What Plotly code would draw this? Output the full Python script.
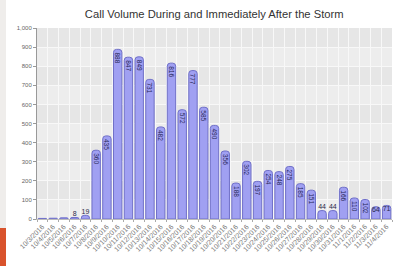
import plotly.graph_objects as go

dates = ["10/3/2016", "10/4/2016", "10/5/2016", "10/6/2016", "10/7/2016", "10/8/2016",
         "10/9/2016", "10/10/2016", "10/11/2016", "10/12/2016", "10/13/2016", "10/14/2016",
         "10/15/2016", "10/16/2016", "10/17/2016", "10/18/2016", "10/19/2016", "10/20/2016",
         "10/21/2016", "10/22/2016", "10/23/2016", "10/24/2016", "10/25/2016", "10/26/2016",
         "10/27/2016", "10/28/2016", "10/29/2016", "10/30/2016", "10/31/2016", "11/1/2016",
         "11/2/2016", "11/3/2016", "11/4/2016"]
calls = [3, 4, 6, 8, 19, 360, 435, 888, 847, 849, 731, 482, 816, 572, 777, 585, 490, 356,
         188, 302, 197, 254, 248, 275, 185, 151, 44, 44, 166, 110, 102, 64, 71]
y_ticks = [0, 100, 200, 300, 400, 500, 600, 700, 800, 900, 1000]
y_tick_text = ["0", "100", "200", "300", "400", "500", "600", "700", "800", "900", "1,000"]

big_text = [str(v) if v >= 100 else "" for v in calls]
small_idx = [i for i, v in enumerate(calls) if 8 <= v < 100]
small_x = [dates[i] for i in small_idx]
small_y = [calls[i] for i in small_idx]
small_t = [str(calls[i]) for i in small_idx]
small_pos = ["top center" if calls[i] < 50 else "bottom center" for i in small_idx]

fig = go.Figure()
fig.add_trace(go.Bar(
    x=dates, y=calls, text=big_text, textposition="inside", textangle=90,
    insidetextanchor="end", constraintext="none",
    textfont=dict(size=6.5, color="#262656", family="Liberation Sans"),
    marker=dict(color="#a0a0f2", line=dict(color="#7070c8", width=1), cornerradius=3),
    hoverinfo="skip",
))
fig.add_trace(go.Scatter(
    x=small_x, y=small_y, text=small_t, mode="text", textposition=small_pos,
    textfont=dict(size=7, color="#2a2a4a", family="Liberation Sans"), hoverinfo="skip",
))

shapes = []
for k in range(0, 1000, 200):
    shapes.append(dict(type="rect", xref="paper", yref="y", x0=0, x1=1, y0=k + 100, y1=k + 200,
                       fillcolor="#e6e6e6", line=dict(width=0), layer="below"))
# slide decorations
shapes.append(dict(type="rect", xref="paper", yref="paper", x0=-37 / 355, x1=-31 / 355,
                   y0=-47 / 191, y1=-9 / 191, fillcolor="#d9532c", line=dict(width=0)))
shapes.append(dict(type="rect", xref="paper", yref="paper", x0=-37 / 355, x1=-31 / 355,
                   y0=-9 / 191, y1=1 + 28 / 191, fillcolor="#efedeb", line=dict(width=0)))

fig.update_layout(
    width=393, height=266,
    margin=dict(l=37, r=1, t=28, b=47),
    paper_bgcolor="#ffffff", plot_bgcolor="#ededed",
    showlegend=False, bargap=0.22,
    uniformtext=dict(minsize=6.5, mode="show"),
    title=dict(text="Call Volume During and Immediately After the Storm", x=0.545,
               xanchor="center", yref="container", y=0.947, yanchor="middle",
               font=dict(size=11.2, color="#333333", family="Liberation Sans")),
    font=dict(family="Liberation Sans", color="#555555"),
    shapes=shapes,
)
fig.update_xaxes(type="category", range=[-0.5, len(dates) - 0.5], tickangle=-45,
                 tickfont=dict(size=7, color="#777777"),
                 showgrid=True, gridcolor="#f8f8f8", gridwidth=1, tickson="boundaries",
                 ticks="outside", ticklen=2, tickcolor="#aaaaaa", showline=True,
                 linecolor="#bbbbbb", automargin=False)
fig.update_yaxes(range=[0, 1000], tickvals=y_ticks, ticktext=y_tick_text,
                 tickfont=dict(size=6, color="#666666"), showgrid=True, gridcolor="#f8f8f8",
                 ticks="outside", ticklen=3, tickcolor="#999999", showline=True,
                 linecolor="#999999", zeroline=False, automargin=False)

fig.write_html("out.html", config={"displayModeBar": False},
               post_script="document.body.style.margin='0';")
